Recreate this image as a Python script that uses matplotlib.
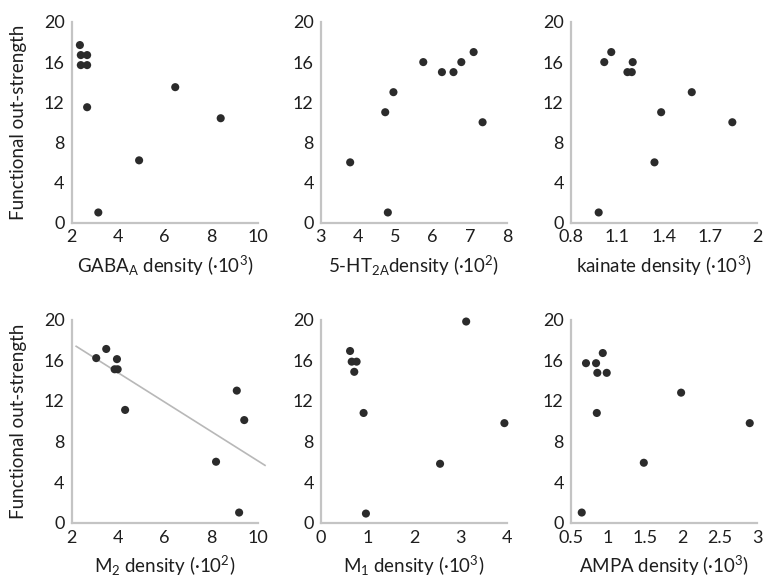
import matplotlib
matplotlib.use("Agg")
import matplotlib.pyplot as plt
import numpy as np

plt.rcParams['font.family'] = ['Lato', 'DejaVu Sans']
plt.rcParams['mathtext.fontset'] = 'custom'
plt.rcParams['mathtext.rm'] = 'Lato'
plt.rcParams['mathtext.it'] = 'Lato:italic'
plt.rcParams['mathtext.bf'] = 'Lato:bold'

# ---- data ----
y_ticks = [0, 4, 8, 12, 16, 20]

gaba = [2.36, 2.40, 2.67, 2.40, 2.67, 2.67, 6.45, 8.40, 4.90, 3.15]
out_gaba = [17.7, 16.7, 16.7, 15.7, 15.7, 11.5, 13.5, 10.4, 6.2, 1.0]

ht2a = [5.75, 6.25, 6.56, 6.77, 7.10, 7.34, 4.95, 4.73, 3.79, 4.80]
out_ht2a = [16, 15, 15, 16, 17, 10, 13, 11, 6, 1]

kainate = [0.98, 1.016, 1.061, 1.165, 1.193, 1.199, 1.579, 1.382, 1.840, 1.339]
out_kain = [1, 16, 17, 15, 15, 16, 13, 11, 10, 6]

m2 = [3.06, 3.49, 3.95, 3.85, 3.98, 4.30, 9.09, 9.41, 8.20, 9.19]
out_m2 = [16.2, 17.1, 16.1, 15.1, 15.1, 11.1, 13.0, 10.1, 6.0, 1.0]
m2_fit_range = [2.2, 10.3]

m1 = [3.12, 3.94, 2.56, 0.97, 0.92, 0.63, 0.665, 0.77, 0.72]
out_m1 = [19.8, 9.8, 5.8, 0.9, 10.8, 16.9, 15.85, 15.85, 14.85]

ampa = [0.648, 0.705, 0.84, 0.93, 0.857, 0.983, 0.85, 1.98, 2.90, 1.48]
out_ampa = [1.0, 15.7, 15.7, 16.7, 14.75, 14.75, 10.8, 12.8, 9.8, 5.9]

x_labels = [r'GABA$_\mathrm{A}$ density (·10$^\mathrm{3}$)',
            r'5-HT$_\mathrm{2A}$density (·10$^\mathrm{2}$)',
            r'kainate density (·10$^\mathrm{3}$)',
            r'M$_\mathrm{2}$ density (·10$^\mathrm{2}$)',
            r'M$_\mathrm{1}$ density (·10$^\mathrm{3}$)',
            r'AMPA density (·10$^\mathrm{3}$)']
x_ticks = [[2, 4, 6, 8, 10], [3, 4, 5, 6, 7, 8], [0.8, 1.1, 1.4, 1.7, 2],
           [2, 4, 6, 8, 10], [0, 1, 2, 3, 4], [0.5, 1, 1.5, 2, 2.5, 3]]
x_tick_labels = [['2', '4', '6', '8', '10'], ['3', '4', '5', '6', '7', '8'],
                 ['0.8', '1.1', '1.4', '1.7', '2'], ['2', '4', '6', '8', '10'],
                 ['0', '1', '2', '3', '4'], ['0.5', '1', '1.5', '2', '2.5', '3']]
xs = [gaba, ht2a, kainate, m2, m1, ampa]
ys = [out_gaba, out_ht2a, out_kain, out_m2, out_m1, out_ampa]
ylabel = 'Functional out-strength'

W, H = 764, 579
fig = plt.figure(figsize=(W / 100, H / 100), dpi=100)

lefts = [71.5, 320.7, 570.7]
width = 186.5
rows = [(22.0, 222.5), (319.5, 522.7)]

text_col = '#1e1e1e'
spine_col = '#c4c4c4'
dot_col = '#2b2b2b'

for i in range(6):
    r, c = divmod(i, 3)
    top, bot = rows[r]
    ax = fig.add_axes([lefts[c] / W, 1 - bot / H, width / W, (bot - top) / H])
    ax.scatter(xs[i], ys[i], s=34, color=dot_col, edgecolors='none', zorder=3, clip_on=False)
    ax.set_xlim(x_ticks[i][0], x_ticks[i][-1])
    ax.set_ylim(0, 20)
    ax.set_xticks(x_ticks[i])
    ax.set_xticklabels(x_tick_labels[i])
    ax.set_yticks(y_ticks)
    for s in ['top', 'right']:
        ax.spines[s].set_visible(False)
    for s in ['left', 'bottom']:
        ax.spines[s].set_color(spine_col)
        ax.spines[s].set_linewidth(1.6)
    ax.tick_params(length=0, labelsize=13, colors=text_col)
    ax.tick_params(axis='x', pad=5)
    ax.tick_params(axis='y', pad=5)
    ax.set_xlabel(x_labels[i], fontsize=13.5, color=text_col, labelpad=6)
    if c == 0:
        ax.set_ylabel(ylabel, fontsize=13.5, color=text_col, labelpad=12)
    if i == 3:
        k, b = np.polyfit(m2, out_m2, 1)
        fx = np.array(m2_fit_range)
        ax.plot(fx, k * fx + b, color='#b8b8b8', lw=1.2, zorder=2, clip_on=False)

fig.savefig('out.png', dpi=100)
